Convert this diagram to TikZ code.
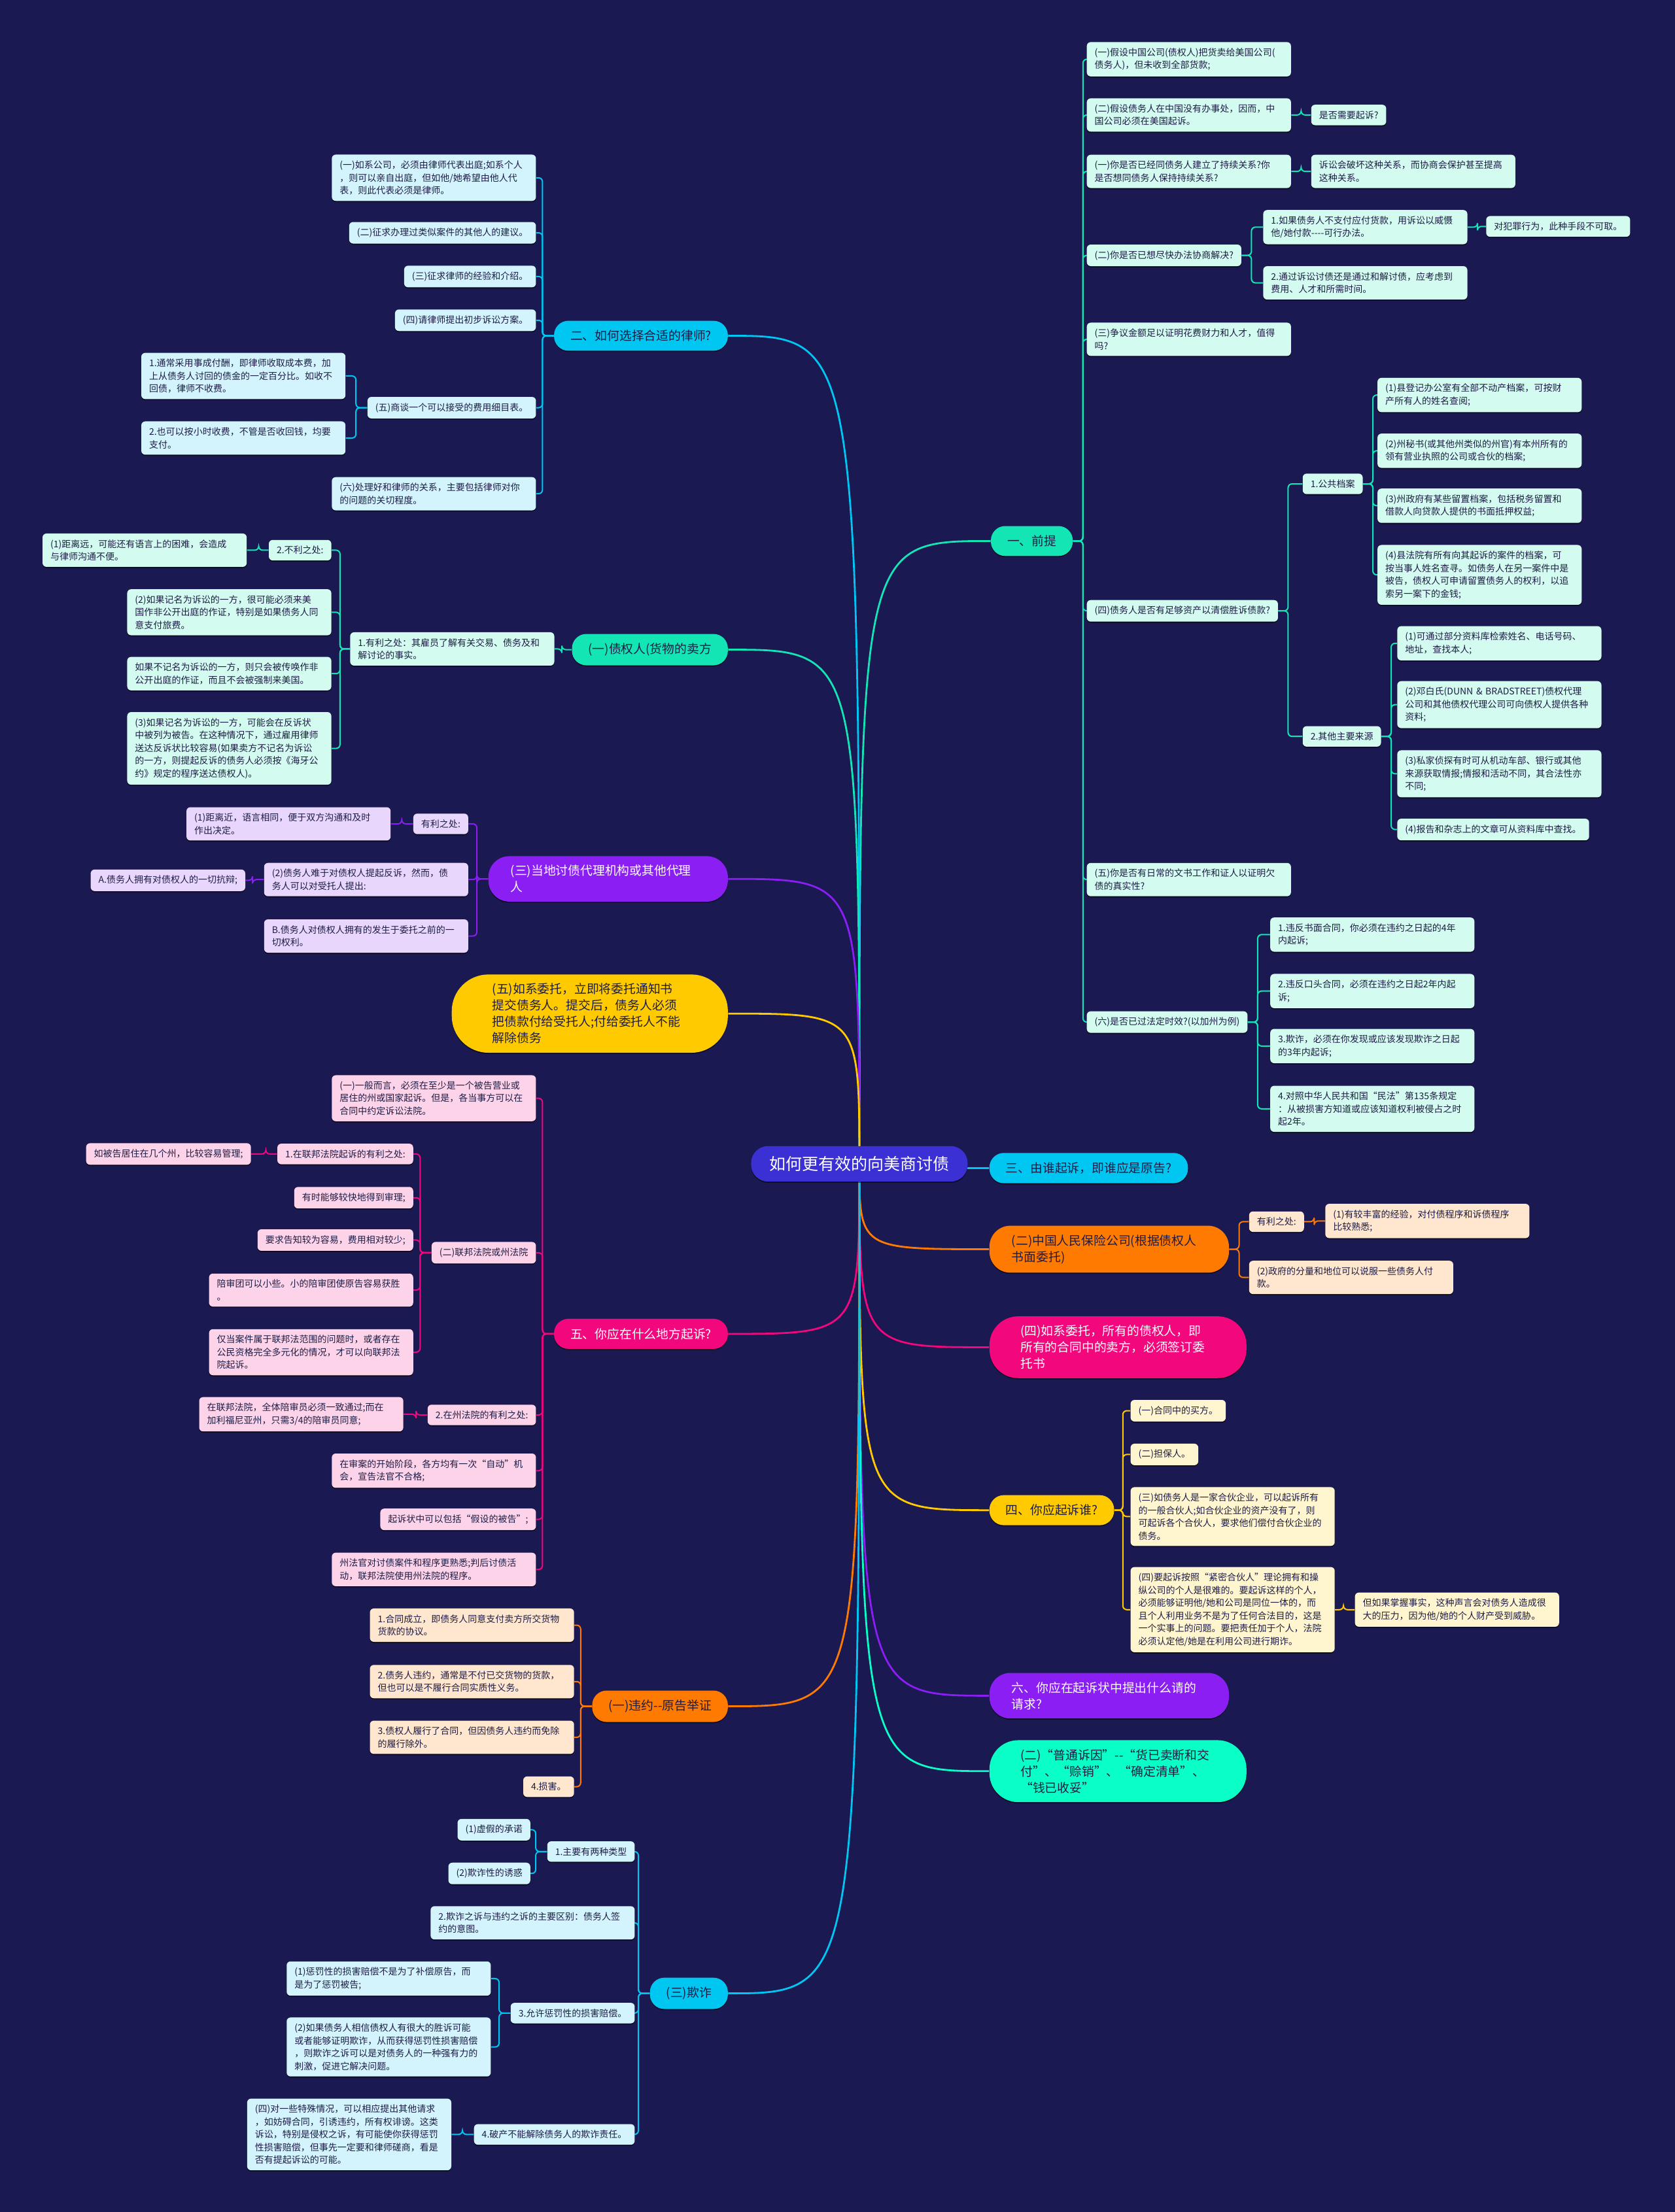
\documentclass[tikz,border=0pt]{standalone}
\usepackage{fontspec}
\newfontfamily\cjk{Noto Sans CJK SC}
\usetikzlibrary{shadows}
\definecolor{mNavy}{HTML}{1B1951}
\definecolor{mRoot}{HTML}{3A30D4}
\definecolor{mInk}{HTML}{1D1C45}
\definecolor{mCyan}{HTML}{00C6F2}
\definecolor{mCyanL}{HTML}{D3F4FC}
\definecolor{mMint}{HTML}{14E5B5}
\definecolor{mMintL}{HTML}{D3FBEF}
\definecolor{mMintB}{HTML}{0AFFC6}
\definecolor{mPurple}{HTML}{8B1FF3}
\definecolor{mPurpleL}{HTML}{E8D6FD}
\definecolor{mPink}{HTML}{F2077D}
\definecolor{mPinkL}{HTML}{FCD3E8}
\definecolor{mOrange}{HTML}{FF7A00}
\definecolor{mOrangeL}{HTML}{FFE6CE}
\definecolor{mYellow}{HTML}{FFCB00}
\definecolor{mYellowL}{HTML}{FFF5CF}
\pgfdeclarelayer{bg}
\pgfdeclarelayer{links}
\pgfsetlayers{bg,links,main}

\begin{document}
\begin{tikzpicture}[x=1.0783pt, y=-1.0783pt,
    every node/.style={drop shadow={shadow xshift=0pt, shadow yshift=-0.9pt, opacity=0.55, fill=black}},
    leaf/.style={rounded corners=3pt, inner xsep=6pt, inner ysep=4.6pt, align=left, text=mInk,
      font=\cjk\fontsize{7pt}{9.75pt}\selectfont},
    para/.style={leaf, text width=144pt},
    topic/.style={rounded corners=11pt, inner xsep=12.5pt, inner ysep=7.1pt, align=left, text=mInk,
      font=\cjk\fontsize{9.4pt}{12.5pt}\selectfont},
    topicm/.style={topic, text width=149pt, inner xsep=17pt, inner ysep=6.8pt, rounded corners=16pt},
    link/.style={line width=1.4pt},
    twig/.style={line width=1pt, rounded corners=3pt}]
  \useasboundingbox (0,0) rectangle (1187,1568);
  \begin{pgfonlayer}{bg}
    \fill[mNavy] (0,0) rectangle (1187,1568);
  \end{pgfonlayer}

  \node[fill=mRoot, text=white, rounded corners=13pt, inner xsep=14pt, inner ysep=7.8pt,
    font=\cjk\fontsize{12.5pt}{15pt}\selectfont] (root) at (609,825) {如何更有效的向美商讨债};

  % right side
  \node[topic, fill=mMint, anchor=west] (pre) at (702,383.5) {一、前提};
  \begin{scope}[every node/.append style={fill=mMintL, anchor=west}]
    \node[para] (pa) at (770,42) {(一)假设中国公司(债权人)把货卖给美国公司(\\债务人)，但未收到全部货款;};
    \node[para] (pb) at (770,81.5) {(二)假设债务人在中国没有办事处，因而，中\\国公司必须在美国起诉。};
    \node[leaf] (pb1) at (929,81.5) {是否需要起诉?};
    \node[para] (pc) at (770,121.5) {(一)你是否已经同债务人建立了持续关系?你\\是否想同债务人保持持续关系?};
    \node[para] (pc1) at (929,121.5) {诉讼会破坏这种关系，而协商会保护甚至提高\\这种关系。};
    \node[leaf] (pd) at (770,181) {(二)你是否已想尽快办法协商解决?};
    \node[para] (pd1) at (895,161) {1.如果债务人不支付应付货款，用诉讼以威慑\\他/她付款-{}-{}-{}-可行办法。};
    \node[leaf] (pd1a) at (1053,160.5) {对犯罪行为，此种手段不可取。};
    \node[para] (pd2) at (895,200.5) {2.通过诉讼讨债还是通过和解讨债，应考虑到\\费用、人才和所需时间。};
    \node[para] (pe) at (770,240.5) {(三)争议金额足以证明花费财力和人才，值得\\吗?};
    \node[leaf] (pf) at (770,433) {(四)债务人是否有足够资产以清偿胜诉债款?};
    \node[leaf] (pf1) at (923,343) {1.公共档案};
    \node[para] (pf1a) at (976,280) {(1)县登记办公室有全部不动产档案，可按财\\产所有人的姓名查阅;};
    \node[para] (pf1b) at (976,319.5) {(2)州秘书(或其他州类似的州官)有本州所有的\\领有营业执照的公司或合伙的档案;};
    \node[para] (pf1c) at (976,358.5) {(3)州政府有某些留置档案，包括税务留置和\\借款人向贷款人提供的书面抵押权益;};
    \node[para] (pf1d) at (976,407.5) {(4)县法院有所有向其起诉的案件的档案，可\\按当事人姓名查寻。如债务人在另一案件中是\\被告，债权人可申请留置债务人的权利，以追\\索另一案下的金钱;};
    \node[leaf] (pf2) at (923,522) {2.其他主要来源};
    \node[para] (pf2a) at (990,456) {(1)可通过部分资料库检索姓名、电话号码、\\地址，查找本人;};
    \node[para] (pf2b) at (990,499.5) {(2)邓白氏(DUNN \& BRADSTREET)债权代理\\公司和其他债权代理公司可向债权人提供各种\\资料;};
    \node[para] (pf2c) at (990,548.5) {(3)私家侦探有时可从机动车部、银行或其他\\来源获取情报;情报和活动不同，其合法性亦\\不同;};
    \node[leaf] (pf2d) at (990,588) {(4)报告和杂志上的文章可从资料库中查找。};
    \node[para] (pg) at (770,623.5) {(五)你是否有日常的文书工作和证人以证明欠\\债的真实性?};
    \node[leaf] (ph) at (770,724.5) {(六)是否已过法定时效?(以加州为例)};
    \node[para] (ph1) at (900,662.5) {1.违反书面合同，你必须在违约之日起的4年\\内起诉;};
    \node[para] (ph2) at (900,702.5) {2.违反口头合同，必须在违约之日起2年内起\\诉;};
    \node[para] (ph3) at (900,741.5) {3.欺诈，必须在你发现或应该发现欺诈之日起\\的3年内起诉;};
    \node[para] (ph4) at (900,786) {4.对照中华人民共和国“民法”第135条规定\\：从被损害方知道或应该知道权利被侵占之时\\起2年。};
  \end{scope}

  \node[topic, fill=mCyan, anchor=west] (who) at (701,828) {三、由谁起诉，即谁应是原告?};
  \node[topicm, fill=mOrange, anchor=west] (ins) at (701,885.5) {(二)中国人民保险公司(根据债权人\\书面委托)};
  \begin{scope}[every node/.append style={fill=mOrangeL, anchor=west}]
    \node[leaf] (ins1) at (885,866) {有利之处:};
    \node[para] (ins1a) at (939,865.5) {(1)有较丰富的经验，对付债程序和诉债程序\\比较熟悉;};
    \node[para] (ins2) at (885,905.5) {(2)政府的分量和地位可以说服一些债务人付\\款。};
  \end{scope}
  \node[topicm, fill=mPink, text=white, inner xsep=23.7pt, rounded corners=22pt, anchor=west] (entr)
    at (701,955) {(四)如系委托，所有的债权人，即\\所有的合同中的卖方，必须签订委\\托书};
  \node[topic, fill=mYellow, anchor=west] (whom) at (701,1070.5) {四、你应起诉谁?};
  \begin{scope}[every node/.append style={fill=mYellowL, anchor=west}]
    \node[leaf] (wa) at (801,1000) {(一)合同中的买方。};
    \node[leaf] (wb) at (801,1031) {(二)担保人。};
    \node[para] (wc) at (801,1075) {(三)如债务人是一家合伙企业，可以起诉所有\\的一般合伙人;如合伙企业的资产没有了，则\\可起诉各个合伙人，要求他们偿付合伙企业的\\债务。};
    \node[para] (wd) at (801,1141) {(四)要起诉按照“紧密合伙人”理论拥有和操\\纵公司的个人是很难的。要起诉这样的个人，\\必须能够证明他/她和公司是同位一体的，而\\且个人利用业务不是为了任何合法目的，这是\\一个实事上的问题。要把责任加于个人，法院\\必须认定他/她是在利用公司进行期诈。};
    \node[para] (wd1) at (960,1141) {但如果掌握事实，这种声言会对债务人造成很\\大的压力，因为他/她的个人财产受到威胁。};
  \end{scope}
  \node[topicm, fill=mPurple, text=white, anchor=west] (claim) at (701,1202) {六、你应在起诉状中提出什么请的\\请求?};
  \node[topicm, fill=mMintB, inner xsep=23.7pt, rounded corners=22pt, anchor=west] (cause)
    at (701,1255.5) {(二)“普通诉因”-{}-“货已卖断和交\\付”、“赊销”、“确定清单”、\\“钱已收妥”};

  % left side
  \node[topic, fill=mCyan, anchor=east] (law) at (516,238) {二、如何选择合适的律师?};
  \begin{scope}[every node/.append style={fill=mCyanL, anchor=east}]
    \node[para] (la) at (380,126) {(一)如系公司，必须由律师代表出庭;如系个人\\，则可以亲自出庭，但如他/她希望由他人代\\表，则此代表必须是律师。};
    \node[leaf] (lb) at (380,165) {(二)征求办理过类似案件的其他人的建议。};
    \node[leaf] (lc) at (380,196) {(三)征求律师的经验和介绍。};
    \node[leaf] (ld) at (380,227) {(四)请律师提出初步诉讼方案。};
    \node[leaf] (le) at (380,289) {(五)商谈一个可以接受的费用细目表。};
    \node[para] (le1) at (245,266.5) {1.通常采用事成付酬，即律师收取成本费，加\\上从债务人讨回的债金的一定百分比。如收不\\回债，律师不收费。};
    \node[para] (le2) at (245,310.5) {2.也可以按小时收费，不管是否收回钱，均要\\支付。};
    \node[para] (lf) at (380,350) {(六)处理好和律师的关系，主要包括律师对你\\的问题的关切程度。};
  \end{scope}

  \node[topic, fill=mMint, anchor=east] (cred) at (516,460.5) {(一)债权人(货物的卖方};
  \begin{scope}[every node/.append style={fill=mMintL, anchor=east}]
    \node[para] (cr1) at (393,460) {1.有利之处：其雇员了解有关交易、债务及和\\解讨论的事实。};
    \node[leaf] (cr2) at (235,390) {2.不利之处:};
    \node[para] (cr2a) at (175,390) {(1)距离远，可能还有语言上的困难，会造成\\与律师沟通不便。};
    \node[para] (cr3) at (235,434) {(2)如果记名为诉讼的一方，很可能必须来美\\国作非公开出庭的作证，特别是如果债务人同\\意支付旅费。};
    \node[para] (cr4) at (235,477.5) {如果不记名为诉讼的一方，则只会被传唤作非\\公开出庭的作证，而且不会被强制来美国。};
    \node[para] (cr5) at (235,530.5) {(3)如果记名为诉讼的一方，可能会在反诉状\\中被列为被告。在这种情况下，通过雇用律师\\送达反诉状比较容易(如果卖方不记名为诉讼\\的一方，则提起反诉的债务人必须按《海牙公\\约》规定的程序送达债权人)。};
  \end{scope}

  \node[topicm, fill=mPurple, text=white, anchor=east] (agent) at (516,623) {(三)当地讨债代理机构或其他代理\\人};
  \begin{scope}[every node/.append style={fill=mPurpleL, anchor=east}]
    \node[leaf] (ag1) at (332,584) {有利之处:};
    \node[para] (ag1a) at (277,584) {(1)距离近，语言相同，便于双方沟通和及时\\作出决定。};
    \node[para] (ag2) at (332,623.5) {(2)债务人难于对债权人提起反诉，然而，债\\务人可以对受托人提出:};
    \node[leaf] (ag2a) at (174,624) {A.债务人拥有对债权人的一切抗辩;};
    \node[para] (ag3) at (332,663.5) {B.债务人对债权人拥有的发生于委托之前的一\\切权利。};
  \end{scope}

  \node[topicm, fill=mYellow, inner xsep=31pt, rounded corners=28pt, anchor=east] (notice)
    at (516,718.5) {(五)如系委托，立即将委托通知书\\提交债务人。提交后，债务人必须\\把债款付给受托人;付给委托人不能\\解除债务};

  \node[topic, fill=mPink, text=white, anchor=east] (where) at (516,945.5) {五、你应在什么地方起诉?};
  \begin{scope}[every node/.append style={fill=mPinkL, anchor=east}]
    \node[para] (wh1) at (380,778.5) {(一)一般而言，必须在至少是一个被告营业或\\居住的州或国家起诉。但是，各当事方可以在\\合同中约定诉讼法院。};
    \node[leaf] (wh2) at (380,888) {(二)联邦法院或州法院};
    \node[leaf] (wh2a) at (293,818) {1.在联邦法院起诉的有利之处:};
    \node[leaf] (wh2a1) at (178,818) {如被告居住在几个州，比较容易管理;};
    \node[leaf] (wh2b) at (293,849) {有时能够较快地得到审理;};
    \node[leaf] (wh2c) at (293,879) {要求告知较为容易，费用相对较少;};
    \node[para] (wh2d) at (293,914.5) {陪审团可以小些。小的陪审团使原告容易获胜\\。};
    \node[para] (wh2e) at (293,958.5) {仅当案件属于联邦法范围的问题时，或者存在\\公民资格完全多元化的情况，才可以向联邦法\\院起诉。};
    \node[leaf] (wh3) at (380,1003) {2.在州法院的有利之处:};
    \node[para] (wh3a) at (286,1002.5) {在联邦法院，全体陪审员必须一致通过;而在\\加利福尼亚州，只需3/4的陪审员同意;};
    \node[para] (wh4) at (380,1042.5) {在审案的开始阶段，各方均有一次“自动”机\\会，宣告法官不合格;};
    \node[leaf] (wh5) at (380,1077) {起诉状中可以包括“假设的被告”;};
    \node[para] (wh6) at (380,1112.5) {州法官对讨债案件和程序更熟悉;判后讨债活\\动，联邦法院使用州法院的程序。};
  \end{scope}

  \node[topic, fill=mOrange, anchor=east] (breach) at (516,1209.5) {(一)违约-{}-原告举证};
  \begin{scope}[every node/.append style={fill=mOrangeL, anchor=east}]
    \node[para] (br1) at (407,1152) {1.合同成立，即债务人同意支付卖方所交货物\\货款的协议。};
    \node[para] (br2) at (407,1192) {2.债务人违约，通常是不付已交货物的货款，\\但也可以是不履行合同实质性义务。};
    \node[para] (br3) at (407,1231.5) {3.债权人履行了合同，但因债务人违约而免除\\的履行除外。};
    \node[leaf] (br4) at (407,1266.5) {4.损害。};
  \end{scope}

  \node[topic, fill=mCyan, anchor=east] (fraud) at (516,1413) {(三)欺诈};
  \begin{scope}[every node/.append style={fill=mCyanL, anchor=east}]
    \node[leaf] (fr1) at (450,1312.5) {1.主要有两种类型};
    \node[leaf] (fr1a) at (376,1297) {(1)虚假的承诺};
    \node[leaf] (fr1b) at (376,1328) {(2)欺诈性的诱惑};
    \node[para] (fr2) at (450,1363) {2.欺诈之诉与违约之诉的主要区别：债务人签\\约的意图。};
    \node[leaf] (fr3) at (450,1427) {3.允许惩罚性的损害赔偿。};
    \node[para] (fr3a) at (348,1402.5) {(1)惩罚性的损害赔偿不是为了补偿原告，而\\是为了惩罚被告;};
    \node[para] (fr3b) at (348,1451) {(2)如果债务人相信债权人有很大的胜诉可能\\或者能够证明欺诈，从而获得惩罚性损害赔偿\\，则欺诈之诉可以是对债务人的一种强有力的\\刺激，促进它解决问题。};
    \node[leaf] (fr4) at (450,1513) {4.破产不能解除债务人的欺诈责任。};
    \node[para] (fr4a) at (320,1513) {(四)对一些特殊情况，可以相应提出其他请求\\，如妨碍合同，引诱违约，所有权诽谤。这类\\诉讼，特别是侵权之诉，有可能使你获得惩罚\\性损害赔偿，但事先一定要和律师磋商，看是\\否有提起诉讼的可能。};
  \end{scope}

  % connectors
  \begin{pgfonlayer}{links}
    \foreach \n/\c in {pre/mMint, who/mCyan, ins/mOrange, entr/mPink, whom/mYellow, claim/mPurple, cause/mMintB}
      \draw[link, \c] (root.center) .. controls (root.center |- \n.west) .. (\n.west);
    \foreach \n/\c in {law/mCyan, cred/mMint, agent/mPurple, notice/mYellow, where/mPink, breach/mOrange, fraud/mCyan}
      \draw[link, \c] (root.center) .. controls (root.center |- \n.east) .. (\n.east);

    \foreach \p/\k in {pre/pa, pre/pb, pre/pc, pre/pd, pre/pe, pre/pf, pre/pg, pre/ph, pb/pb1, pc/pc1,
        pd/pd1, pd/pd2, pd1/pd1a, pf/pf1, pf/pf2, pf1/pf1a, pf1/pf1b, pf1/pf1c, pf1/pf1d,
        pf2/pf2a, pf2/pf2b, pf2/pf2c, pf2/pf2d, ph/ph1, ph/ph2, ph/ph3, ph/ph4}
      \draw[twig, mMint] (\p.east) -- ++(7,0) |- (\k.west);
    \foreach \p/\k in {ins/ins1, ins/ins2, ins1/ins1a}
      \draw[twig, mOrange] (\p.east) -- ++(7,0) |- (\k.west);
    \foreach \p/\k in {whom/wa, whom/wb, whom/wc, whom/wd, wd/wd1}
      \draw[twig, mYellow] (\p.east) -- ++(6,0) |- (\k.west);

    \foreach \p/\k in {law/la, law/lb, law/lc, law/ld, law/le, law/lf, le/le1, le/le2,
        fraud/fr1, fraud/fr2, fraud/fr3, fraud/fr4, fr1/fr1a, fr1/fr1b, fr3/fr3a, fr3/fr3b, fr4/fr4a}
      \draw[twig, mCyan] (\p.west) -- ++(-8,0) |- (\k.east);
    \foreach \p/\k in {cred/cr1, cr1/cr2, cr1/cr3, cr1/cr4, cr1/cr5, cr2/cr2a}
      \draw[twig, mMint] (\p.west) -- ++(-7,0) |- (\k.east);
    \foreach \p/\k in {agent/ag1, agent/ag2, agent/ag3, ag1/ag1a, ag2/ag2a}
      \draw[twig, mPurple] (\p.west) -- ++(-8,0) |- (\k.east);
    \foreach \p/\k in {where/wh1, where/wh2, where/wh3, where/wh4, where/wh5, where/wh6,
        wh2/wh2a, wh2/wh2b, wh2/wh2c, wh2/wh2d, wh2/wh2e, wh2a/wh2a1, wh3/wh3a}
      \draw[twig, mPink] (\p.west) -- ++(-8,0) |- (\k.east);
    \foreach \p/\k in {breach/br1, breach/br2, breach/br3, breach/br4}
      \draw[twig, mOrange] (\p.west) -- ++(-8,0) |- (\k.east);
  \end{pgfonlayer}
\end{tikzpicture}
\end{document}
